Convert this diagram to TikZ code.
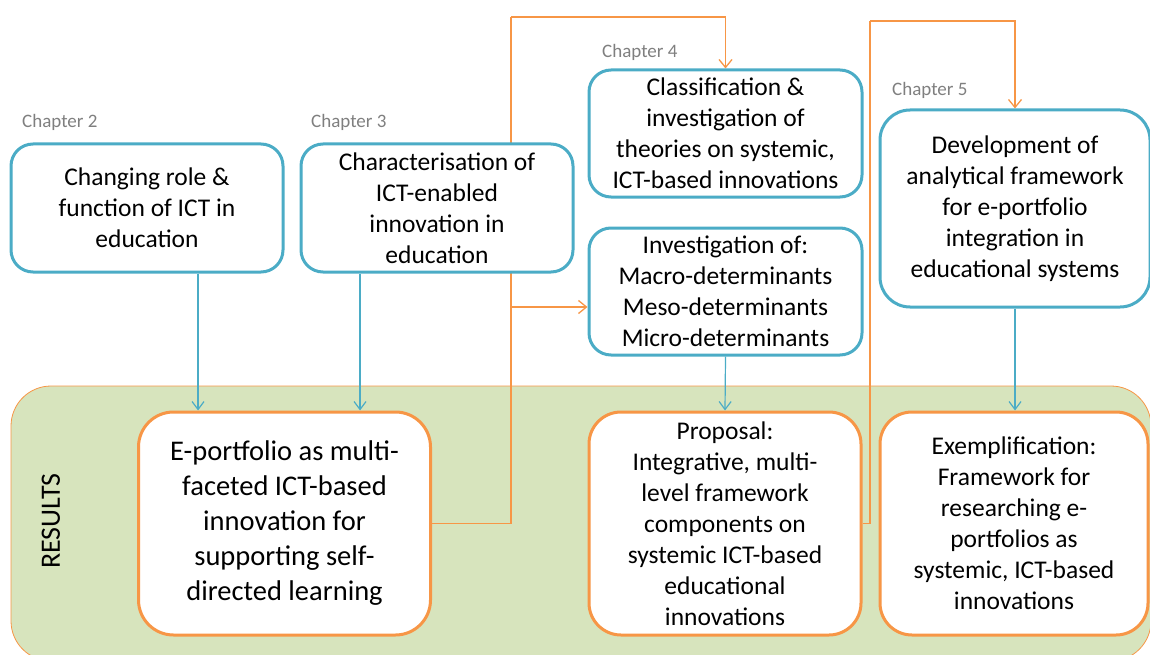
\documentclass[tikz,border=0pt]{standalone}
\usepackage{fontspec}
\setmainfont{Carlito}
\usetikzlibrary{arrows.meta,backgrounds}
\definecolor{boxblue}{HTML}{4BACC6}
\definecolor{boxorange}{HTML}{F79646}
\definecolor{resgreen}{HTML}{D7E4BD}
\definecolor{chapgray}{HTML}{7F7F7F}
\tikzset{
  chapbox/.style={draw=boxblue,line width=3pt,fill=white,rounded corners=22pt,
    align=center,inner sep=0pt,font=\fontsize{25.5}{31}\selectfont},
  resbox/.style={draw=boxorange,line width=3pt,fill=white,rounded corners=32pt,
    align=center,inner sep=0pt,font=\fontsize{25.5}{31}\selectfont},
  chaplabel/.style={text=chapgray,font=\fontsize{19}{22}\selectfont,anchor=base west,inner sep=0pt},
  bluearrow/.style={draw=boxblue,line width=1.2pt,-{Straight Barb[length=8pt,width=12pt]}},
  orangearrow/.style={draw=boxorange,line width=1.3pt,-{Straight Barb[length=8pt,width=13pt]}},
  orangeline/.style={draw=boxorange,line width=1.3pt},
}
\begin{document}
\begin{tikzpicture}[x=1pt,y=-1pt]
\useasboundingbox(0,0)rectangle(1150,655);
\node[chaplabel](ch2)at(22,128){Chapter 2};
\node[chaplabel](ch3)at(311,128){Chapter 3};
\node[chaplabel](ch4)at(602,58){Chapter 4};
\node[chaplabel](ch5)at(892,96){Chapter 5};
\node[chapbox,minimum width=272pt,minimum height=128pt](role)at(147,208){Changing role \&\\function of ICT in\\education};
\node[chapbox,minimum width=272pt,minimum height=128pt](charact)at(437,208){Characterisation of\\ICT-enabled\\innovation in\\education};
\node[chapbox,minimum width=273pt,minimum height=127pt](classif)at(725.5,133.5){Classification \&\\investigation of\\theories on systemic,\\ICT-based innovations};
\node[chapbox,minimum width=273pt,minimum height=127pt](determ)at(725.5,291.5){Investigation of:\\Macro-determinants\\Meso-determinants\\Micro-determinants};
\node[chapbox,rounded corners=30pt,minimum width=270pt,minimum height=197pt](develop)at(1015,208.5){Development of\\analytical framework\\for e-portfolio\\integration in\\educational systems};
\node[resbox,rounded corners=35pt,minimum width=292pt,minimum height=223pt,
  font=\fontsize{28.5}{35}\selectfont](eport)at(284.5,523.5){E-portfolio as multi-\\faceted ICT-based\\innovation for\\supporting self-\\directed learning};
\node[resbox,minimum width=272pt,minimum height=223pt](proposal)at(725,523.5){Proposal:\\Integrative, multi-\\level framework\\components on\\systemic ICT-based\\educational\\innovations};
\node[resbox,minimum width=268pt,minimum height=223pt](exempl)at(1014,523.5){Exemplification:\\Framework for\\researching e-\\portfolios as\\systemic, ICT-based\\innovations};
\node[rotate=90,font=\fontsize{28}{30}\selectfont,inner sep=0pt](results)at(51,521){RESULTS};
\coordinate(colA)at(198,0);
\coordinate(colB)at(360,0);
\coordinate(topA)at(511,17);
\coordinate(brD)at(511,307);
\coordinate(topG)at(870,21);
\begin{pgfonlayer}{background}
\draw[boxorange,line width=0.8pt,fill=resgreen,rounded corners=40pt](11,386)rectangle(1151,661);
\draw[orangeline](eport.east)-|(topA);
\draw[orangearrow](topA)-|(classif.north);
\draw[orangearrow](brD)--(brD-|determ.west);
\draw[orangeline](proposal.east)-|(topG);
\draw[orangearrow](topG)-|(develop.north);
\draw[bluearrow](role.south-|colA)--(eport.north-|colA);
\draw[bluearrow](charact.south-|colB)--(eport.north-|colB);
\draw[bluearrow](determ.south)--(proposal.north);
\draw[bluearrow](develop.south)--(develop.south|-exempl.north);
\end{pgfonlayer}
\end{tikzpicture}
\end{document}
